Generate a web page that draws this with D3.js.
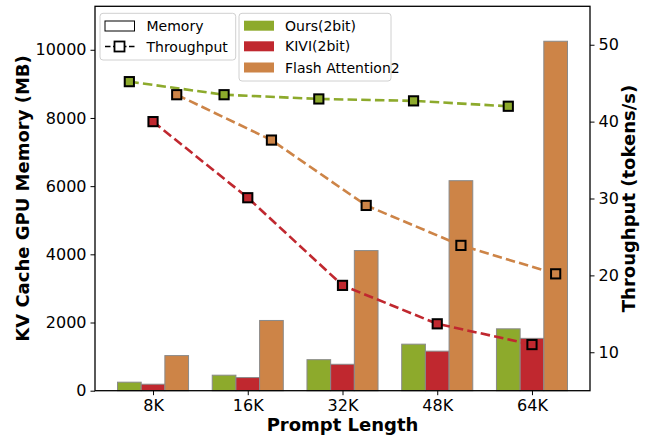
<!DOCTYPE html>
<html><head><meta charset="utf-8">
<script src="https://cdn.jsdelivr.net/npm/d3@7"></script>
<style>body{margin:0;background:#fff}svg{display:block;font-family:"DejaVu Sans",sans-serif}</style>
</head><body><svg id="c" width="652" height="437"></svg>
<script>
const categories = ["8K","16K","32K","48K","64K"];
const seriesNames = ["Ours(2bit)","KIVI(2bit)","Flash Attention2"];
const colors = ["#8DAA2C","#C0282F","#CD8447"];
const memOurs = [250, 455, 910, 1365, 1815];
const memKivi = [190, 385, 775, 1160, 1535];
const memFlash = [1030, 2060, 4110, 6160, 10250];
const tpOurs = [45.2, 43.5, 42.95, 42.7, 42.0];
const tpKivi = [40.0, 30.1, 18.7, 13.7, 11.0];
const tpFlash = [43.5, 37.6, 29.1, 23.9, 20.2];
const leftTicks = [0,2000,4000,6000,8000,10000];
const rightTicks = [10,20,30,40,50];

const mem = [memOurs, memKivi, memFlash];
const tp = [tpOurs, tpKivi, tpFlash];

const svg = d3.select("#c");
const L = 95, R = 590, T = 6.3, B = 390.7;
const barW = 0.25;
const x = d3.scaleLinear().domain([-0.6125, 4.6125]).range([L, R]);
const yL = d3.scaleLinear().domain([0, 11275]).range([B, T]);
const yR = d3.scaleLinear().domain([5, 55]).range([B, T]);
const off = [-barW, 0, barW];

// bars
const gBars = svg.append("g");
mem.forEach((s, si) => {
  gBars.selectAll(null).data(s).enter().append("rect")
    .attr("x", (d,i) => x(i + off[si] - barW/2))
    .attr("width", x(barW) - x(0))
    .attr("y", d => yL(d))
    .attr("height", d => B - yL(d))
    .attr("fill", colors[si])
    .attr("stroke", "#8a8a8a").attr("stroke-width", 1);
});

// lines
const gLines = svg.append("g");
tp.forEach((s, si) => {
  const line = d3.line().x((d,i) => x(i + off[si])).y(d => yR(d));
  gLines.append("path").datum(s).attr("d", line)
    .attr("fill", "none").attr("stroke", colors[si]).attr("stroke-width", 2.6)
    .attr("stroke-dasharray", "9.5,4.2");
});
tp.forEach((s, si) => {
  gLines.selectAll(null).data(s).enter().append("rect")
    .attr("x", (d,i) => x(i + off[si]) - 4.6)
    .attr("y", d => yR(d) - 4.6)
    .attr("width", 9.2).attr("height", 9.2)
    .attr("fill", colors[si]).attr("stroke", "#000").attr("stroke-width", 2);
});

// axes
const axB = svg.append("g").attr("transform", `translate(0,${B})`)
  .call(d3.axisBottom(x).tickValues(d3.range(categories.length)).tickFormat(i => categories[i]).tickSize(4.5).tickPadding(4));
const axL = svg.append("g").attr("transform", `translate(${L},0)`)
  .call(d3.axisLeft(yL).tickValues(leftTicks).tickFormat(d3.format("d")).tickSize(4.5).tickPadding(4));
const axR = svg.append("g").attr("transform", `translate(${R},0)`)
  .call(d3.axisRight(yR).tickValues(rightTicks).tickSize(4.5).tickPadding(4));
[axB, axL, axR].forEach(a => {
  a.select(".domain").remove();
  a.selectAll("text").attr("font-size", 16).attr("fill", "#000").attr("font-family", "DejaVu Sans");
  a.selectAll("line").attr("stroke", "#000").attr("stroke-width", 1);
});
// frame
svg.append("rect").attr("x", L).attr("y", T).attr("width", R - L).attr("height", B - T)
  .attr("fill", "none").attr("stroke", "#000").attr("stroke-width", 1.3);

// labels
svg.append("text").attr("x", (L+R)/2).attr("y", 431).attr("text-anchor", "middle")
  .attr("font-size", 18).attr("font-weight", "bold").text("Prompt Length");
svg.append("text").attr("transform", `translate(29,${(T+B)/2}) rotate(-90)`).attr("text-anchor", "middle")
  .attr("font-size", 18).attr("font-weight", "bold").text("KV Cache GPU Memory (MB)");
svg.append("text").attr("transform", `translate(635,${(T+B)/2}) rotate(-90)`).attr("text-anchor", "middle")
  .attr("font-size", 18).attr("font-weight", "bold").text("Throughput (tokens/s)");

// legend 1
const lg1 = svg.append("g");
lg1.append("rect").attr("x", 100).attr("y", 13.3).attr("width", 135.7).attr("height", 46.7).attr("rx", 3)
  .attr("fill", "#fff").attr("fill-opacity", 0.8).attr("stroke", "#d0d0d0");
lg1.append("rect").attr("x", 105).attr("y", 21).attr("width", 29.5).attr("height", 10)
  .attr("fill", "#fff").attr("stroke", "#000").attr("stroke-width", 1);
lg1.append("text").attr("x", 146.5).attr("y", 31).attr("font-size", 14).text("Memory");
lg1.append("line").attr("x1", 105).attr("x2", 134.5).attr("y1", 46.5).attr("y2", 46.5)
  .attr("stroke", "#000").attr("stroke-width", 1.5).attr("stroke-dasharray", "5.5,2.5");
lg1.append("rect").attr("x", 114.5).attr("y", 41.5).attr("width", 10).attr("height", 10)
  .attr("fill", "#fff").attr("stroke", "#000").attr("stroke-width", 1.8);
lg1.append("text").attr("x", 146.5).attr("y", 51.5).attr("font-size", 14).text("Throughput");

// legend 2
const lg2 = svg.append("g");
lg2.append("rect").attr("x", 239).attr("y", 13.3).attr("width", 152).attr("height", 67.7).attr("rx", 3)
  .attr("fill", "#fff").attr("fill-opacity", 0.8).attr("stroke", "#d0d0d0");
const rowsY = [25.7, 46.3, 67.5];
seriesNames.forEach((n, i) => {
  lg2.append("rect").attr("x", 244).attr("y", rowsY[i] - 5).attr("width", 30).attr("height", 10).attr("fill", colors[i]);
  lg2.append("text").attr("x", 285).attr("y", rowsY[i] + 5).attr("font-size", 14).text(n);
});
</script></body></html>
